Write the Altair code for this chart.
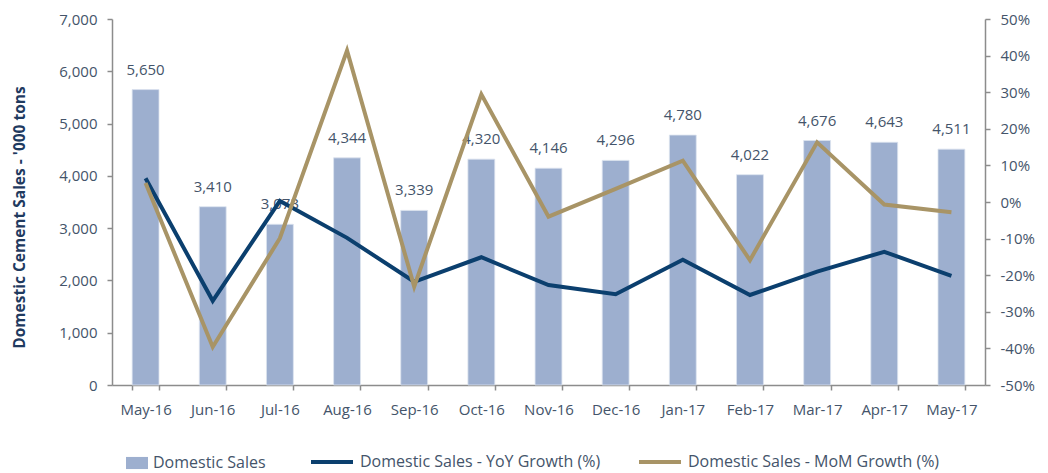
import altair as alt
import pandas as pd

months = ["May-16", "Jun-16", "Jul-16", "Aug-16", "Sep-16", "Oct-16", "Nov-16",
          "Dec-16", "Jan-17", "Feb-17", "Mar-17", "Apr-17", "May-17"]
sales = [5650, 3410, 3073, 4344, 3339, 4320, 4146, 4296, 4780, 4022, 4676, 4643, 4511]
yoy = [6.5, -27.0, 0.3, -9.8, -21.8, -15.1, -22.7, -25.2, -15.8, -25.4, -19.0, -13.6, -20.2]
mom = [5.2, -39.6, -9.9, 41.4, -23.1, 29.4, -4.0, 3.6, 11.3, -15.9, 16.3, -0.7, -2.8]

df = pd.DataFrame({"month": months, "sales": sales, "yoy": yoy, "mom": mom})
df["bar_series"] = "Domestic Sales"
df["yoy_series"] = "Domestic Sales - YoY Growth (%)"
df["mom_series"] = "Domestic Sales - MoM Growth (%)"

FONT = "Open Sans"
LABEL = "#44546A"
AXIS = "#8C8C8C"
BAR = "#9DAFCF"
NAVY = "#0B3F6E"
GOLD = "#A89466"

x = alt.X("month:N", sort=months, title=None,
          scale=alt.Scale(paddingInner=0.6, paddingOuter=0.3),
          axis=alt.Axis(labelAngle=0, tickBand="extent", labelPadding=12,
                        tickSize=5, labelFontSize=15))

bars = alt.Chart(df).mark_bar(stroke="#DCE3EF", strokeWidth=0.8).encode(
    x=x,
    y=alt.Y("sales:Q", title="Domestic Cement Sales  - '000 tons",
            scale=alt.Scale(domain=[0, 7000], nice=False),
            axis=alt.Axis(values=list(range(0, 7001, 1000)), format=",.0f",
                          titleFontWeight="bold", titleColor="#1F3A5F",
                          titleFontSize=15.5, titlePadding=31, titleY=198,
                          labelPadding=10, tickSize=5, labelFontSize=15)),
    fill=alt.Fill("bar_series:N", title=None,
                  scale=alt.Scale(domain=["Domestic Sales"], range=[BAR]),
                  legend=alt.Legend(orient="none", legendX=14, legendY=433,
                                    symbolType="M-1,-0.55H1V0.55H-1Z",
                                    symbolSize=484, symbolStrokeWidth=0,
                                    labelOffset=5, labelFontSize=16, labelLimit=0,
                                    labelColor=LABEL, labelFont=FONT)),
)

labels = alt.Chart(df).mark_text(baseline="bottom", dy=-12, fontSize=15,
                                 color=LABEL, font=FONT).encode(
    x=alt.X("month:N", sort=months),
    y=alt.Y("sales:Q"),
    text=alt.Text("sales:Q", format=",.0f"),
)

left = alt.layer(bars, labels)

right_axis = alt.Axis(values=list(range(-50, 51, 10)), labelExpr="datum.value + '%'",
                      orient="right", labelPadding=10, tickSize=5, labelFontSize=15)
yscale = alt.Scale(domain=[-50, 50], nice=False)

yoy_line = alt.Chart(df).mark_line(strokeWidth=4).encode(
    x=alt.X("month:N", sort=months),
    y=alt.Y("yoy:Q", title=None, scale=yscale, axis=right_axis),
    stroke=alt.Stroke("yoy_series:N", title=None,
                      scale=alt.Scale(domain=["Domestic Sales - YoY Growth (%)"], range=[NAVY]),
                      legend=alt.Legend(orient="none", legendX=197, legendY=420,
                                        symbolType="stroke", symbolSize=1764,
                                        symbolStrokeWidth=4, labelOffset=5, labelLimit=0,
                                        labelFontSize=16, labelColor=LABEL, labelFont=FONT)),
)

mom_line = alt.Chart(df).mark_line(strokeWidth=4).encode(
    x=alt.X("month:N", sort=months),
    y=alt.Y("mom:Q", title=None, scale=yscale, axis=right_axis),
    stroke=alt.Stroke("mom_series:N", title=None,
                      scale=alt.Scale(domain=["Domestic Sales - MoM Growth (%)"], range=[GOLD]),
                      legend=alt.Legend(orient="none", legendX=525, legendY=420,
                                        symbolType="stroke", symbolSize=1764,
                                        symbolStrokeWidth=4, labelOffset=5, labelLimit=0,
                                        labelFontSize=16, labelColor=LABEL, labelFont=FONT)),
)

right = alt.layer(yoy_line, mom_line).resolve_scale(stroke="independent")

chart = alt.layer(left, right).resolve_scale(
    y="independent", stroke="independent"
).properties(
    width=873, height=366,
    padding={"left": 4, "top": 4, "right": 5, "bottom": 5},
).configure_view(stroke=None).configure_axis(
    domainColor=AXIS, domainWidth=1.5, tickColor=AXIS, tickWidth=1.5,
    labelColor=LABEL, labelFont=FONT, titleFont=FONT, grid=False,
)

chart.save("out.html", embed_options={"renderer": "svg", "actions": False})
